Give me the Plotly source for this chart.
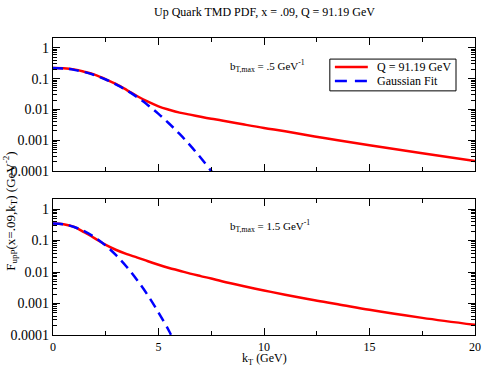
import plotly.graph_objects as go

# ---- data ----
kt_top_q = [0, 0.5, 1.0, 1.5, 2.0, 2.5, 3.0, 3.5, 4.0, 4.5, 5.0, 5.5, 6.0, 6.5, 7.0, 7.5, 8.0, 9.0, 10.0, 11.0, 12.4, 13.5, 15.0, 17.5, 20.0]
q_top = [0.222, 0.218, 0.2, 0.166, 0.132, 0.0955, 0.066, 0.0427, 0.0269, 0.0178, 0.0126, 0.0098, 0.0079, 0.0068, 0.0058, 0.005, 0.0044, 0.0033, 0.0025, 0.00195, 0.00132, 0.001, 0.00069, 0.00038, 0.00021]

kt_top_g = [0, 0.5, 1.0, 1.5, 2.0, 2.5, 3.0, 3.5, 4.0, 4.5, 5.0, 5.5, 6.0, 6.5, 7.0, 7.5, 7.7]
g_top = [0.222, 0.214, 0.193, 0.163, 0.128, 0.094, 0.0645, 0.0414, 0.0248, 0.0138, 0.0072, 0.0035, 0.0016, 0.00068, 0.00027, 0.0001, 0.00007]

kt_bot_q = [0, 0.5, 1.0, 1.5, 2.0, 2.5, 3.0, 3.5, 4.0, 4.5, 5.0, 5.5, 6.0, 6.5, 7.0, 7.5, 8.0, 9.0, 10.0, 11.0, 12.4, 13.5, 15.0, 17.5, 20.0]
q_bot = [0.35, 0.33, 0.272, 0.18, 0.115, 0.0724, 0.05, 0.037, 0.0288, 0.0219, 0.017, 0.0135, 0.011, 0.0089, 0.0074, 0.0062, 0.0051, 0.0036, 0.0026, 0.0019, 0.00126, 0.00095, 0.00063, 0.00035, 0.00021]

kt_bot_g = [0, 0.5, 1.0, 1.5, 2.0, 2.5, 3.0, 3.5, 4.0, 4.5, 5.0, 5.5, 5.7]
g_bot = [0.35, 0.328, 0.27, 0.195, 0.124, 0.069, 0.0337, 0.0145, 0.0054, 0.0018, 0.00052, 0.000134, 0.00007]

series_names = ["Q = 91.19 GeV", "Gaussian Fit"]
ytick_vals = [1, 0.1, 0.01, 0.001, 0.0001]
ytick_text = ["1", "0.1", "0.01", "0.001", "0.0001"]
xtick_vals = [0, 5, 10, 15, 20]
xminor_vals = [2.5, 7.5, 12.5, 17.5]
minor_y = [m * 10 ** e for e in range(-4, 1) for m in range(2, 10)]

FONT = "Liberation Serif"
RED = "#ff0000"
BLUE = "#0000ff"
DASH = "10px,6px"

fig = go.Figure()
fig.add_trace(go.Scatter(x=kt_top_q, y=q_top, mode="lines", name=series_names[0],
                         line=dict(color=RED, width=2.5, shape="spline"), xaxis="x", yaxis="y"))
fig.add_trace(go.Scatter(x=kt_top_g, y=g_top, mode="lines", name=series_names[1],
                         line=dict(color=BLUE, width=2.5, dash=DASH, shape="spline"), xaxis="x", yaxis="y"))
fig.add_trace(go.Scatter(x=kt_bot_q, y=q_bot, mode="lines", name=series_names[0],
                         line=dict(color=RED, width=2.5, shape="spline"), xaxis="x2", yaxis="y2"))
fig.add_trace(go.Scatter(x=kt_bot_g, y=g_bot, mode="lines", name=series_names[1],
                         line=dict(color=BLUE, width=2.5, dash=DASH, shape="spline"), xaxis="x2", yaxis="y2"))

xcommon = dict(range=[0, 20], tickvals=xtick_vals, ticks="inside", ticklen=7, tickcolor="black",
               showline=True, linecolor="black", linewidth=1.3, mirror="ticks", showgrid=False,
               zeroline=False, automargin=False,
               minor=dict(tickvals=xminor_vals, ticks="inside", ticklen=4, tickcolor="black"),
               tickfont=dict(family=FONT, size=12, color="black"))
ycommon = dict(type="log", range=[-4, 0.32], tickvals=ytick_vals, ticktext=ytick_text, ticks="inside",
               ticklen=7, tickcolor="black", showline=True, linecolor="black", linewidth=1.3, mirror="ticks",
               showgrid=False, zeroline=False, automargin=False,
               minor=dict(tickvals=minor_y, ticks="inside", ticklen=4, tickcolor="black"),
               tickfont=dict(family=FONT, size=14, color="black"))

# legend box (drawn as decoration, top-right of upper panel)
LX0, LX1, LY0, LY1 = 0.656, 0.955, 0.822, 0.929
row_y = [0.902, 0.855]
shapes = [dict(type="rect", xref="paper", yref="paper", x0=LX0, x1=LX1, y0=LY0, y1=LY1,
               line=dict(color="black", width=1), fillcolor="white", layer="above")]
shapes.append(dict(type="line", xref="paper", yref="paper", x0=0.668, x1=0.746, y0=row_y[0], y1=row_y[0],
                   line=dict(color=RED, width=2.5), layer="above"))
shapes.append(dict(type="line", xref="paper", yref="paper", x0=0.668, x1=0.746, y0=row_y[1], y1=row_y[1],
                   line=dict(color=BLUE, width=2.5, dash="12px,8px"), layer="above"))

annotations = [
    dict(text="Up Quark TMD PDF, x = .09, Q = 91.19 GeV", xref="paper", yref="paper", x=0.5, y=1,
         yshift=26, showarrow=False, font=dict(family=FONT, size=12), yanchor="middle"),
    dict(text="b<sub>T,max</sub> = .5 GeV<sup>-1</sup>", xref="paper", yref="paper", x=0.415, y=0.906,
         showarrow=False, xanchor="left", yanchor="middle", font=dict(family=FONT, size=11)),
    dict(text="b<sub>T,max</sub> = 1.5 GeV<sup>-1</sup>", xref="paper", yref="paper", x=0.415, y=0.367,
         showarrow=False, xanchor="left", yanchor="middle", font=dict(family=FONT, size=11)),
    dict(text="k<sub>T</sub> (GeV)", xref="paper", yref="paper", x=0.5, y=0, yshift=-24, borderpad=0,
         showarrow=False, xanchor="center", yanchor="middle", font=dict(family=FONT, size=12)),
    dict(text="F<sub>upP</sub>(x=.09,k<sub>T</sub>) (GeV<sup>-2</sup>)", xref="paper", yref="paper",
         x=0, xshift=-43, y=0.418, textangle=-90, showarrow=False, font=dict(family=FONT, size=13),
         xanchor="center", yanchor="middle"),
]
for name, yy in zip(series_names, row_y):
    annotations.append(dict(text=name, xref="paper", yref="paper", x=0.762, y=yy, xanchor="left",
                            yanchor="middle", showarrow=False, font=dict(family=FONT, size=12)))

fig.update_layout(
    width=484, height=366,
    margin=dict(l=53, r=9, t=38, b=31),
    paper_bgcolor="white", plot_bgcolor="white",
    font=dict(family=FONT, size=12, color="black"),
    xaxis=dict(xcommon, domain=[0, 1], anchor="y", showticklabels=False),
    yaxis=dict(ycommon, domain=[0.552, 1], anchor="x"),
    xaxis2=dict(xcommon, domain=[0, 1], anchor="y2"),
    yaxis2=dict(ycommon, domain=[0, 0.458], anchor="x2"),
    showlegend=False,
    shapes=shapes,
    annotations=annotations,
)

fig.write_html("out.html", config={"displayModeBar": False},
               post_script="document.body.style.margin='0';document.body.style.padding='0';document.body.style.overflow='hidden';")
